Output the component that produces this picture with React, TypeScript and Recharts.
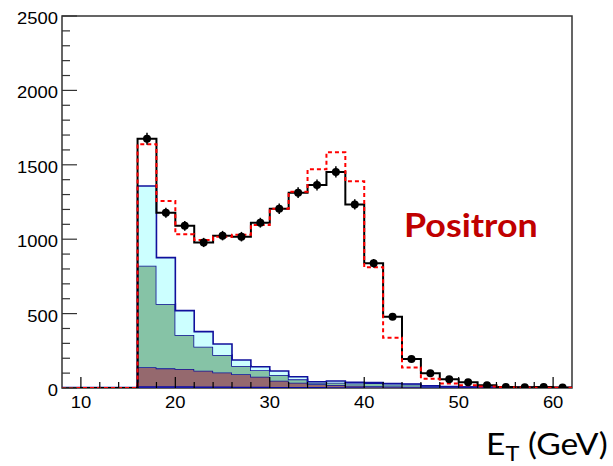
import {
  ComposedChart,
  Area,
  Line,
  Scatter,
  ErrorBar,
  XAxis,
  YAxis,
  ReferenceArea,
} from 'recharts';

// lower edges of the 2 GeV bins
const binLow = [16, 18, 20, 22, 24, 26, 28, 30, 32, 34, 36, 38, 40, 42, 44, 46, 48, 50, 52, 54, 56, 58, 60];

// measured counts and their errors
const observed = [1675, 1178, 1090, 978, 1024, 1017, 1111, 1205, 1313, 1364, 1452, 1234, 838, 479, 195, 99, 58, 38, 18, 6, 5, 7, 4];
const observedErr = [41, 34, 33, 31, 32, 32, 33, 35, 36, 37, 38, 35, 29, 22, 14, 10, 8, 6, 4, 2, 2, 3, 2];

// total expectation (signal + background)
const expected = [1638, 1257, 1033, 995, 1017, 1030, 1095, 1205, 1319, 1470, 1584, 1389, 811, 338, 137, 63, 31, 18, 10, 5, 3, 2, 2];

// background contributions, bottom of the stack first
const bkgBlue = [12, 12, 11, 10, 10, 9, 8, 7, 6, 6, 5, 5, 4, 4, 3, 3, 2, 2, 1, 1, 1, 0, 0];
const bkgBrown = [127, 120, 117, 106, 95, 83, 68, 42, 30, 19, 15, 10, 8, 6, 5, 2, 2, 1, 1, 0, 0, 1, 0];
const bkgGreen = [683, 433, 228, 162, 117, 56, 43, 38, 22, 11, 16, 16, 21, 14, 16, 5, 3, 1, 1, 1, 0, 0, 1];
const bkgCyan = [536, 311, 164, 101, 74, 40, 24, 27, 18, 6, 11, 7, 3, 6, 3, 4, 3, 2, 1, 1, 2, 1, 0];

const xTicks = [8, 10, 12, 14, 16, 18, 20, 22, 24, 26, 28, 30, 32, 34, 36, 38, 40, 42, 44, 46, 48, 50, 52, 54, 56, 58, 60, 62];
const yTicks = [0, 100, 200, 300, 400, 500, 600, 700, 800, 900, 1000, 1100, 1200, 1300, 1400, 1500, 1600, 1700, 1800, 1900, 2000, 2100, 2200, 2300, 2400, 2500];

const X_MIN = 8;
const X_MAX = 62;
const BIN_W = 2;

// one row per bin edge so stepAfter draws the histogram outline
const row = (x: number, i: number) => ({
  x,
  obs: i < 0 ? 0 : observed[i],
  exp: i < 0 ? 0 : expected[i],
  blue: i < 0 ? 0 : bkgBlue[i],
  brown: i < 0 ? 0 : bkgBrown[i],
  green: i < 0 ? 0 : bkgGreen[i],
  cyan: i < 0 ? 0 : bkgCyan[i],
});
const last = binLow.length - 1;
const edgeRows = [row(X_MIN, -1), ...binLow.map((lo, i) => row(lo, i)), row(X_MAX, last)];

const points = binLow.map((lo, i) => ({ x: lo + BIN_W / 2, y: observed[i], err: observedErr[i] }));

const AXIS_FONT = '"Liberation Sans", Arial, sans-serif';

// ticks point into the frame, ROOT style
const YTick = ({ x, y, payload }: any) => {
  const major = payload.value % 500 === 0;
  return (
    <g>
      <line x1={x} x2={x + (major ? 15 : 8)} y1={y} y2={y} stroke="#333" strokeWidth={1.2} />
      {major && (
        <text
          transform={`translate(${x - 4},${y + 8}) scale(1.15,1)`}
          textAnchor="end"
          fontFamily={AXIS_FONT}
          fontSize={16}
          fill="#000"
        >
          {payload.value}
        </text>
      )}
    </g>
  );
};

const XTick = ({ x, y, payload }: any) => {
  const major = payload.value % 10 === 0;
  if (payload.value === X_MIN || payload.value === X_MAX) return <g />;
  return (
    <g>
      <line x1={x} x2={x} y1={y} y2={y - (major ? 11 : 6)} stroke="#000" strokeWidth={1.2} />
      {major && (
        <text
          transform={`translate(${x},${y + 20}) scale(1.15,1)`}
          textAnchor="middle"
          fontFamily={AXIS_FONT}
          fontSize={16}
          fill="#000"
        >
          {payload.value}
        </text>
      )}
    </g>
  );
};

const Dot = ({ cx, cy }: any) => <circle cx={cx} cy={cy} r={4} fill="#000" />;

export default function App() {
  return (
    <div style={{ position: 'absolute', left: 0, top: 0, width: 613, height: 466, background: '#fff' }}>
      <ComposedChart
        width={613}
        height={466}
        data={edgeRows}
        margin={{ top: 16, right: 41, bottom: 48, left: 2 }}
      >
        <XAxis
          dataKey="x"
          type="number"
          domain={[X_MIN, X_MAX]}
          ticks={xTicks}
          interval={0}
          tickSize={0}
          tickMargin={0}
          axisLine={false}
          tickLine={false}
          tick={XTick}
          height={30}
          allowDataOverflow
        />
        <YAxis
          type="number"
          domain={[0, 2500]}
          ticks={yTicks}
          interval={0}
          tickSize={0}
          tickMargin={0}
          axisLine={false}
          tickLine={false}
          tick={YTick}
          width={60}
          allowDataOverflow
        />
        <ReferenceArea x1={X_MIN} x2={X_MAX} y1={0} y2={2500} fill="none" stroke="#333" strokeWidth={1.5} />
        <Area type="stepAfter" dataKey="blue" stackId="mc" stroke="#0a0aa5" strokeWidth={2.5} fill="#2a2ab8" fillOpacity={1} isAnimationActive={false} />
        <Area type="stepAfter" dataKey="brown" stackId="mc" stroke="#10109c" strokeWidth={1.6} fill="#95696e" fillOpacity={1} isAnimationActive={false} />
        <Area type="stepAfter" dataKey="green" stackId="mc" stroke="#10109c" strokeWidth={1.6} fill="#86c3a6" fillOpacity={1} isAnimationActive={false} />
        <Area type="stepAfter" dataKey="cyan" stackId="mc" stroke="#10109c" strokeWidth={1.6} fill="#ccffff" fillOpacity={1} isAnimationActive={false} />
        <Line type="stepAfter" dataKey="obs" stroke="#000" strokeWidth={2} dot={false} isAnimationActive={false} />
        <Line type="stepAfter" dataKey="exp" stroke="#ff0000" strokeWidth={2} strokeDasharray="4 3" dot={false} isAnimationActive={false} />
        <Scatter data={points} dataKey="y" fill="#000" shape={Dot} isAnimationActive={false}>
          <ErrorBar dataKey="err" direction="y" width={0} stroke="#000" strokeWidth={1.5} />
        </Scatter>
      </ComposedChart>
      <svg width={613} height={466} style={{ position: 'absolute', left: 0, top: 0, pointerEvents: 'none' }}>
        <text
          transform="translate(404,237) scale(1.12,1)"
          fontFamily="Lato, sans-serif"
          fontWeight={700}
          fontSize={32}
          fill="#c00000"
        >
          Positron
        </text>
        <text
          transform="translate(486,455) scale(1.12,1)"
          fontFamily="Lato, sans-serif"
          fontSize={30}
          fill="#000"
        >
          E
          <tspan fontSize={21} dy={6}>T</tspan>
          <tspan dy={-6}> (GeV)</tspan>
        </text>
      </svg>
    </div>
  );
}
